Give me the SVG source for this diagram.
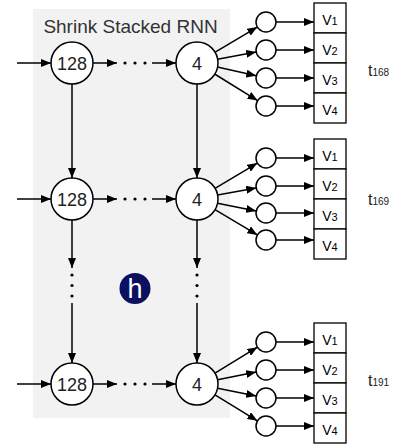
<svg xmlns="http://www.w3.org/2000/svg" width="397" height="444" viewBox="0 0 397 444">
<defs>
<marker id="ah" viewBox="0 0 10 8" refX="10" refY="4" markerWidth="10" markerHeight="8" orient="auto" markerUnits="userSpaceOnUse"><path d="M0,0 L10,4 L0,8 z" fill="#000"/></marker>
<style>
.c{fill:#fff;stroke:#000;stroke-width:1.5}
.b{fill:#fff;stroke:#000;stroke-width:1.3}
.l{stroke:#000;stroke-width:1.5;fill:none;marker-end:url(#ah)}
.d{fill:#000}
.big{font-family:"Liberation Sans",Arial,sans-serif;font-size:18px;fill:#222;text-anchor:middle}
.v{font-family:"Liberation Sans",Arial,sans-serif;font-size:14px;fill:#000;text-anchor:middle}
.t{font-family:"Liberation Sans",Arial,sans-serif;font-size:16px;fill:#222}
</style>
</defs>
<rect x="33" y="9" width="197" height="409" fill="#f2f2f2"/>
<text x="130.5" y="33" font-family="Liberation Sans,Arial,sans-serif" font-size="19" fill="#333" text-anchor="middle">Shrink Stacked RNN</text>
<g id="logo"><circle cx="135" cy="288.5" r="15.5" fill="#0b1060"/><text x="135" y="297.5" font-family="Liberation Sans,Arial,sans-serif" font-size="27" fill="#fff" text-anchor="middle">h</text></g>

<g id="connectors">
<!-- row 1 -->
<line class="l" x1="17" y1="63" x2="51" y2="63"/>
<line class="l" x1="93" y1="63" x2="117" y2="63"/>
<circle class="d" cx="125" cy="63" r="1.6"/><circle class="d" cx="135" cy="63" r="1.6"/><circle class="d" cx="145" cy="63" r="1.6"/>
<line class="l" x1="152" y1="63" x2="176" y2="63"/>
<!-- row 2 -->
<line class="l" x1="17" y1="199" x2="51" y2="199"/>
<line class="l" x1="93" y1="199" x2="117" y2="199"/>
<circle class="d" cx="125" cy="199" r="1.6"/><circle class="d" cx="135" cy="199" r="1.6"/><circle class="d" cx="145" cy="199" r="1.6"/>
<line class="l" x1="152" y1="199" x2="176" y2="199"/>
<!-- row 3 -->
<line class="l" x1="17" y1="384" x2="51" y2="384"/>
<line class="l" x1="93" y1="384" x2="117" y2="384"/>
<circle class="d" cx="125" cy="384" r="1.6"/><circle class="d" cx="135" cy="384" r="1.6"/><circle class="d" cx="145" cy="384" r="1.6"/>
<line class="l" x1="152" y1="384" x2="176" y2="384"/>
<!-- verticals -->
<line class="l" x1="72" y1="84" x2="72" y2="178"/>
<line class="l" x1="197" y1="84" x2="197" y2="178"/>
<line class="l" x1="72" y1="220" x2="72" y2="268"/>
<line class="l" x1="197" y1="220" x2="197" y2="268"/>
<circle class="d" cx="72" cy="275" r="1.6"/><circle class="d" cx="72" cy="285.5" r="1.6"/><circle class="d" cx="72" cy="296" r="1.6"/>
<circle class="d" cx="197" cy="275" r="1.6"/><circle class="d" cx="197" cy="285.5" r="1.6"/><circle class="d" cx="197" cy="296" r="1.6"/>
<line class="l" x1="72" y1="303" x2="72" y2="363"/>
<line class="l" x1="197" y1="303" x2="197" y2="363"/>
<!-- fans row 1 (center 197,63) to (266, 22/50/78/106) -->
<line class="l" x1="215.2" y1="52.2" x2="257.3" y2="27.1"/>
<line class="l" x1="217.5" y1="59.3" x2="256.2" y2="52.1"/>
<line class="l" x1="217.3" y1="67.1" x2="256.3" y2="75.8"/>
<line class="l" x1="214.6" y1="74.0" x2="257.6" y2="100.6"/>
<!-- fans row 2 (197,199) to (266, 158/186/213/240) -->
<line class="l" x1="215.0" y1="188.3" x2="257.4" y2="163.1"/>
<line class="l" x1="217.6" y1="195.1" x2="256.2" y2="187.9"/>
<line class="l" x1="217.5" y1="203.2" x2="256.2" y2="211.0"/>
<line class="l" x1="215.0" y1="209.7" x2="257.4" y2="234.9"/>
<!-- fans row 3 (197,384) to (266, 342/370/398/426) -->
<line class="l" x1="215.0" y1="373.1" x2="257.4" y2="347.2"/>
<line class="l" x1="217.6" y1="379.8" x2="256.2" y2="372.0"/>
<line class="l" x1="217.6" y1="388.2" x2="256.2" y2="396.0"/>
<line class="l" x1="215.0" y1="394.9" x2="257.4" y2="420.8"/>
<!-- small circle to box -->
<line class="l" x1="276" y1="22" x2="314" y2="22"/>
<line class="l" x1="276" y1="50" x2="314" y2="50"/>
<line class="l" x1="276" y1="78" x2="314" y2="78"/>
<line class="l" x1="276" y1="106" x2="314" y2="106"/>
<line class="l" x1="276" y1="158" x2="314" y2="158"/>
<line class="l" x1="276" y1="186" x2="314" y2="186"/>
<line class="l" x1="276" y1="213" x2="314" y2="213"/>
<line class="l" x1="276" y1="240" x2="314" y2="240"/>
<line class="l" x1="276" y1="342" x2="314" y2="342"/>
<line class="l" x1="276" y1="370" x2="314" y2="370"/>
<line class="l" x1="276" y1="398" x2="314" y2="398"/>
<line class="l" x1="276" y1="426" x2="314" y2="426"/>
</g>

<g id="n128_1"><circle class="c" cx="72" cy="63" r="21"/><text class="big" x="72" y="69.5">128</text></g>
<g id="n4_1"><circle class="c" cx="197" cy="63" r="21"/><text class="big" x="197" y="69.5">4</text></g>
<g id="n128_2"><circle class="c" cx="72" cy="199" r="21"/><text class="big" x="72" y="205.5">128</text></g>
<g id="n4_2"><circle class="c" cx="197" cy="199" r="21"/><text class="big" x="197" y="205.5">4</text></g>
<g id="n128_3"><circle class="c" cx="72" cy="384" r="21"/><text class="big" x="72" y="390.5">128</text></g>
<g id="n4_3"><circle class="c" cx="197" cy="384" r="21"/><text class="big" x="197" y="390.5">4</text></g>

<g id="s1"><circle class="c" cx="266" cy="22" r="10"/><circle class="c" cx="266" cy="50" r="10"/><circle class="c" cx="266" cy="78" r="10"/><circle class="c" cx="266" cy="106" r="10"/></g>
<g id="s2"><circle class="c" cx="266" cy="158" r="10"/><circle class="c" cx="266" cy="186" r="10"/><circle class="c" cx="266" cy="213" r="10"/><circle class="c" cx="266" cy="240" r="10"/></g>
<g id="s3"><circle class="c" cx="266" cy="342" r="10"/><circle class="c" cx="266" cy="370" r="10"/><circle class="c" cx="266" cy="398" r="10"/><circle class="c" cx="266" cy="426" r="10"/></g>

<g id="box1">
<rect class="b" x="314" y="3" width="32" height="30"/><rect class="b" x="314" y="33" width="32" height="30"/><rect class="b" x="314" y="63" width="32" height="30"/><rect class="b" x="314" y="93" width="32" height="30"/>
<text class="v" x="330" y="24.5">V<tspan font-size="11">1</tspan></text>
<text class="v" x="330" y="54.5">V<tspan font-size="11">2</tspan></text>
<text class="v" x="330" y="84.5">V<tspan font-size="11">3</tspan></text>
<text class="v" x="330" y="114.5">V<tspan font-size="11">4</tspan></text>
</g>
<g id="box2">
<rect class="b" x="314" y="139" width="32" height="30"/><rect class="b" x="314" y="169" width="32" height="30"/><rect class="b" x="314" y="199" width="32" height="30"/><rect class="b" x="314" y="229" width="32" height="30"/>
<text class="v" x="330" y="160.5">V<tspan font-size="11">1</tspan></text>
<text class="v" x="330" y="190.5">V<tspan font-size="11">2</tspan></text>
<text class="v" x="330" y="220.5">V<tspan font-size="11">3</tspan></text>
<text class="v" x="330" y="250.5">V<tspan font-size="11">4</tspan></text>
</g>
<g id="box3">
<rect class="b" x="314" y="323" width="32" height="30"/><rect class="b" x="314" y="353" width="32" height="30"/><rect class="b" x="314" y="383" width="32" height="30"/><rect class="b" x="314" y="413" width="32" height="30"/>
<text class="v" x="330" y="344.5">V<tspan font-size="11">1</tspan></text>
<text class="v" x="330" y="374.5">V<tspan font-size="11">2</tspan></text>
<text class="v" x="330" y="404.5">V<tspan font-size="11">3</tspan></text>
<text class="v" x="330" y="434.5">V<tspan font-size="11">4</tspan></text>
</g>

<g id="labels">
<text class="t" x="368" y="76">t<tspan font-size="10">168</tspan></text>
<text class="t" x="368" y="205">t<tspan font-size="10">169</tspan></text>
<text class="t" x="368" y="386">t<tspan font-size="10">191</tspan></text>
</g>
</svg>
